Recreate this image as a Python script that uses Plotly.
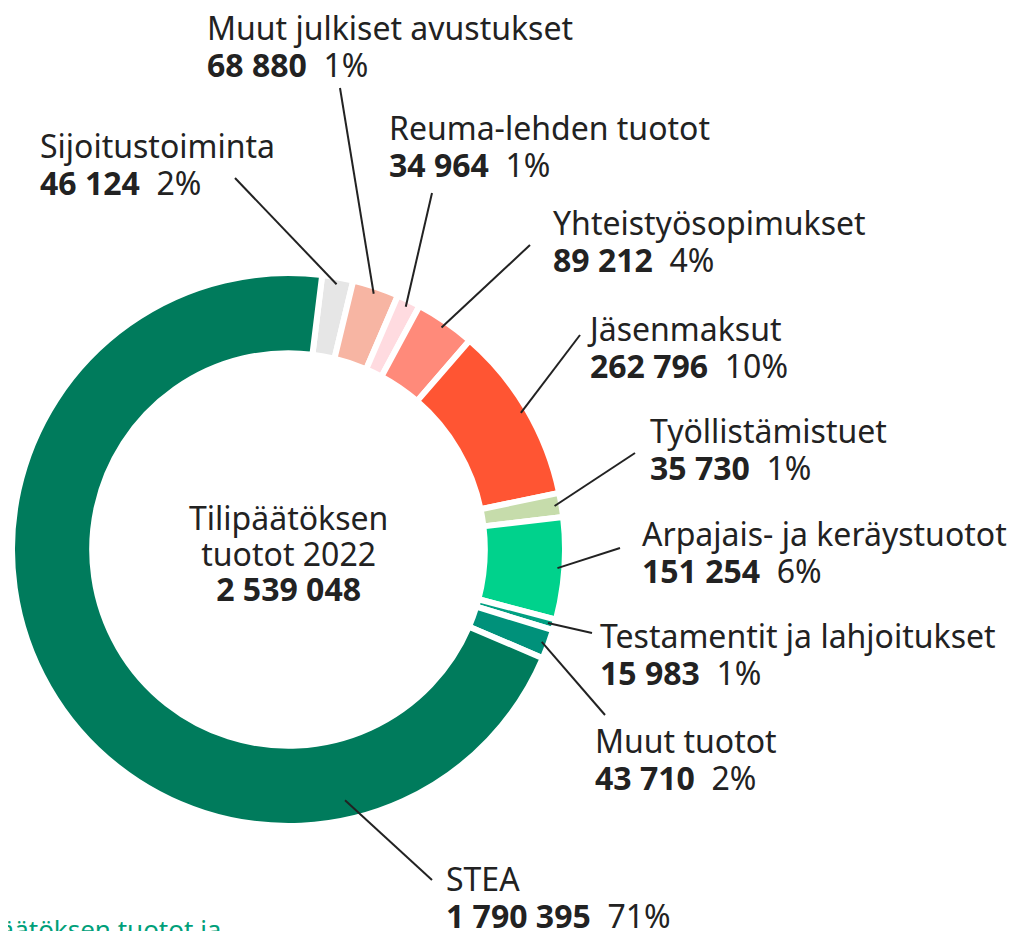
import math
import plotly.graph_objects as go

# ---- data ----
categories = ["Sijoitustoiminta", "Muut julkiset avustukset", "Reuma-lehden tuotot",
              "Yhteistyösopimukset", "Jäsenmaksut", "Työllistämistuet",
              "Arpajais- ja keräystuotot", "Testamentit ja lahjoitukset",
              "Muut tuotot", "STEA"]
values = [46124, 68880, 34964, 89212, 262796, 35730, 151254, 15983, 43710, 1790395]
percent_labels = ["2%", "1%", "1%", "4%", "10%", "1%", "6%", "1%", "2%", "71%"]
value_labels = ["46 124", "68 880", "34 964", "89 212", "262 796", "35 730",
                "151 254", "15 983", "43 710", "1 790 395"]
center_title = ["Tilipäätöksen", "tuotot 2022"]
total_label = "2 539 048"

# ---- style ----
colors = ["#e6e6e6", "#f7b5a3", "#ffdbe0", "#ff8a7a", "#ff5533", "#c6dcab",
          "#00d28c", "#00a082", "#00917a", "#007b5c"]
W, H = 1016, 931
OFF = 8  # page body margin
CX, CY, R = 288.5, 549.5, 276.5
HOLE = 0.71
ROT = 7
FONT = "Noto Sans"
FS = 32
TXT = "#222222"

# label layout: (left x, top-line center y, line-end x, line-end y, anchor angle override)
label_pos = [
    (38, 145, 235, 178, None),
    (205, 28, 340, 88, None),
    (387, 127, 432, 193, None),
    (551, 222, 530, 245, None),
    (585, 328, 580, 335, None),
    (648, 430, 635, 453, None),
    (640, 533, 620, 548, None),
    (598, 635, 592, 633, None),
    (593, 740, 605, 715, None),
    (444, 878, 432, 880, 167.3),
]

def px(x):
    return (x - OFF) / W

def py(y):
    return 1 - (y - OFF) / H

def span(s, size=FS):
    return "<span style='font-size:%dpx'>%s</span>" % (size, s)

def block(x, y, lines, spacing, xanchor="left", align="left", size=FS, color=TXT):
    # spacing (px between lines) is set through the base font size (line height = 1.3em)
    return dict(x=px(x), y=py(y), xref="paper", yref="paper", showarrow=False,
                xanchor=xanchor, yanchor="middle", align=align,
                text="<br>".join(span(l, size) for l in lines),
                font=dict(family=FONT, size=spacing / 1.3, color=color))

fig = go.Figure(go.Pie(
    labels=categories, values=values, sort=False, direction="clockwise",
    rotation=ROT, hole=HOLE, textinfo="none", hoverinfo="label+value+percent",
    marker=dict(colors=colors, line=dict(color="white", width=6)),
    domain=dict(x=[px(CX - R), px(CX + R)], y=[py(CY + R), py(CY - R)]),
    showlegend=False,
))

total = sum(values)
cum = 0
shapes = []
annotations = []
for i, v in enumerate(values):
    mid = (cum + v / 2) / total * 360 + ROT
    cum += v
    lx, ly, ex, ey, override = label_pos[i]
    ang = override if override is not None else mid
    rr = R * (0.93 if override is not None else 0.975)
    sx = CX + rr * math.sin(math.radians(ang))
    sy = CY - rr * math.cos(math.radians(ang))
    shapes.append(dict(type="line", xref="paper", yref="paper",
                       x0=px(sx), y0=py(sy), x1=px(ex), y1=py(ey),
                       line=dict(color=TXT, width=2)))
    annotations.append(block(lx, ly + 18.5,
                             [categories[i],
                              "<b>" + value_labels[i] + "</b>  " + percent_labels[i]],
                             37))

annotations.append(block(CX, 552.5,
                         [center_title[0], center_title[1], "<b>" + total_label + "</b>"],
                         35.5, xanchor="center", align="center"))
annotations.append(dict(x=px(223), y=py(929), xref="paper", yref="paper", showarrow=False,
                        xanchor="right", yanchor="middle", text="Tilipäätöksen tuotot ja",
                        font=dict(family=FONT, size=26, color="#00a07a")))

fig.update_layout(width=W, height=H, margin=dict(l=0, r=0, t=0, b=0),
                  paper_bgcolor="white", plot_bgcolor="white",
                  shapes=shapes, annotations=annotations)
fig.write_html("out.html")
